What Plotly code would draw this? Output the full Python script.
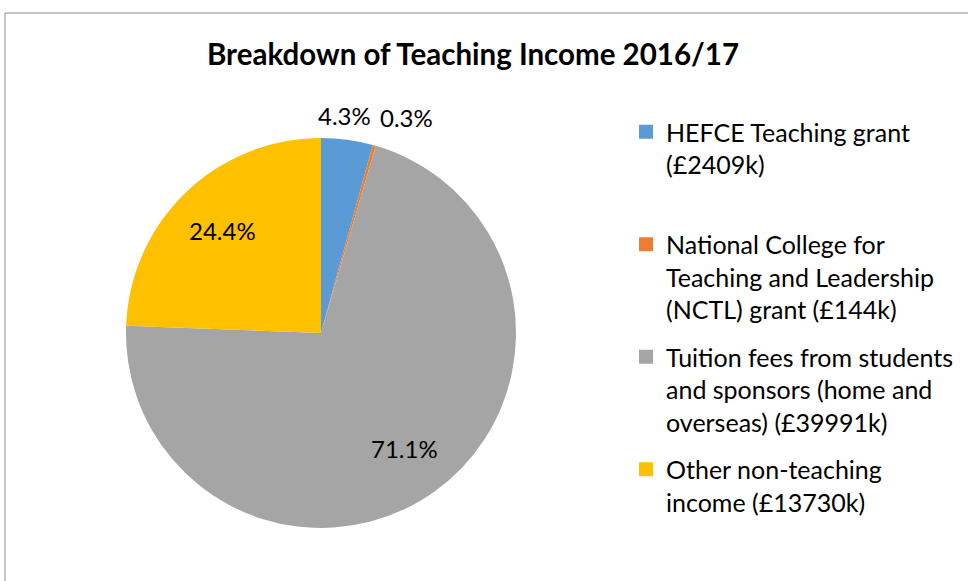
import numpy as np
import plotly.graph_objects as go

# teaching income 2016/17, £k
labels = [
    "HEFCE Teaching grant<br>(£2409k)",
    "National College for<br>Teaching and Leadership<br>(NCTL) grant (£144k)",
    "Tuition fees from students<br>and sponsors (home and<br>overseas) (£39991k)",
    "Other non-teaching<br>income (£13730k)",
]
values = [2409, 144, 39991, 13730]
colors = ["#5B9BD5", "#ED7D31", "#A5A5A5", "#FFC000"]
inside = [False, False, True, True]

W, H = 968, 581
cx, cy, r = 321, 333, 195      # pie centre / radius in px
FONT = "Lato"

fig = go.Figure()
fig.add_trace(go.Pie(
    labels=labels,
    values=values,
    sort=False,
    direction="clockwise",
    rotation=0,
    marker=dict(colors=colors, line=dict(width=0)),
    textinfo="none",
    showlegend=False,
    domain=dict(x=[(cx - r) / W, (cx + r) / W], y=[(H - cy - r) / H, (H - cy + r) / H]),
    hoverinfo="label+value+percent",
))

# legend built from dummy traces so the item spacing can be tuned
n_lines = 3
for i, (lab, col) in enumerate(zip(labels, colors)):
    pad = "<br>&nbsp;" * (n_lines - lab.count("<br>") - 1)
    fig.add_trace(go.Scatter(
        x=[None], y=[None], mode="markers",
        marker=dict(symbol="square", size=14, color=col),
        name=lab + pad, legendgroup=str(i), hoverinfo="skip",
    ))

# percentage labels, Excel style: inside ones at ~0.72r, outside just past the rim
vals = np.array(values, dtype=float)
frac = vals / vals.sum()
mid = (np.cumsum(frac) - frac / 2) * 2 * np.pi   # clockwise from 12 o'clock
annotations = []
for f, a, ins in zip(frac, mid, inside):
    rr = 0.73 * r if ins else 1.06 * r
    px_ = cx + rr * np.sin(a)
    py_ = cy - rr * np.cos(a)
    if ins:
        xa, ya = "center", "middle"
    else:
        xa = "center" if abs(np.sin(a)) < 0.2 else ("left" if np.sin(a) > 0 else "right")
        ya = "bottom" if np.cos(a) > 0 else "top"
        if xa == "center":
            px_ -= 4
            py_ += 4
    annotations.append(dict(
        x=px_ / W, y=1 - py_ / H, xref="paper", yref="paper",
        text=f"{f * 100:.1f}%", showarrow=False, xanchor=xa, yanchor=ya,
        font=dict(family=FONT, size=24, color="#000000"),
    ))

fig.update_layout(
    width=W, height=H,
    margin=dict(l=0, r=0, t=0, b=0),
    paper_bgcolor="white",
    plot_bgcolor="white",
    xaxis=dict(visible=False),
    yaxis=dict(visible=False),
    title=dict(
        text="<b>Breakdown of Teaching Income 2016/17</b>",
        font=dict(family=FONT, size=29.5, color="#000000"),
        x=473 / W, xanchor="center", xref="paper",
        y=1 - 55 / H, yanchor="middle", yref="paper",
    ),
    legend=dict(
        x=626 / W, xanchor="left",
        y=1 - 109 / H, yanchor="top",
        valign="top",
        tracegroupgap=12,
        font=dict(family=FONT, size=25, color="#000000"),
        bgcolor="rgba(0,0,0,0)",
    ),
    annotations=annotations,
    shapes=[dict(
        type="rect", xref="paper", yref="paper",
        x0=5 / W, x1=1.05, y0=-0.05, y1=1 - 13 / H,
        line=dict(color="#8C8C8C", width=1),
    )],
)

fig.write_html("out.html", config={"displayModeBar": False},
               post_script="document.body.style.margin='0';")
